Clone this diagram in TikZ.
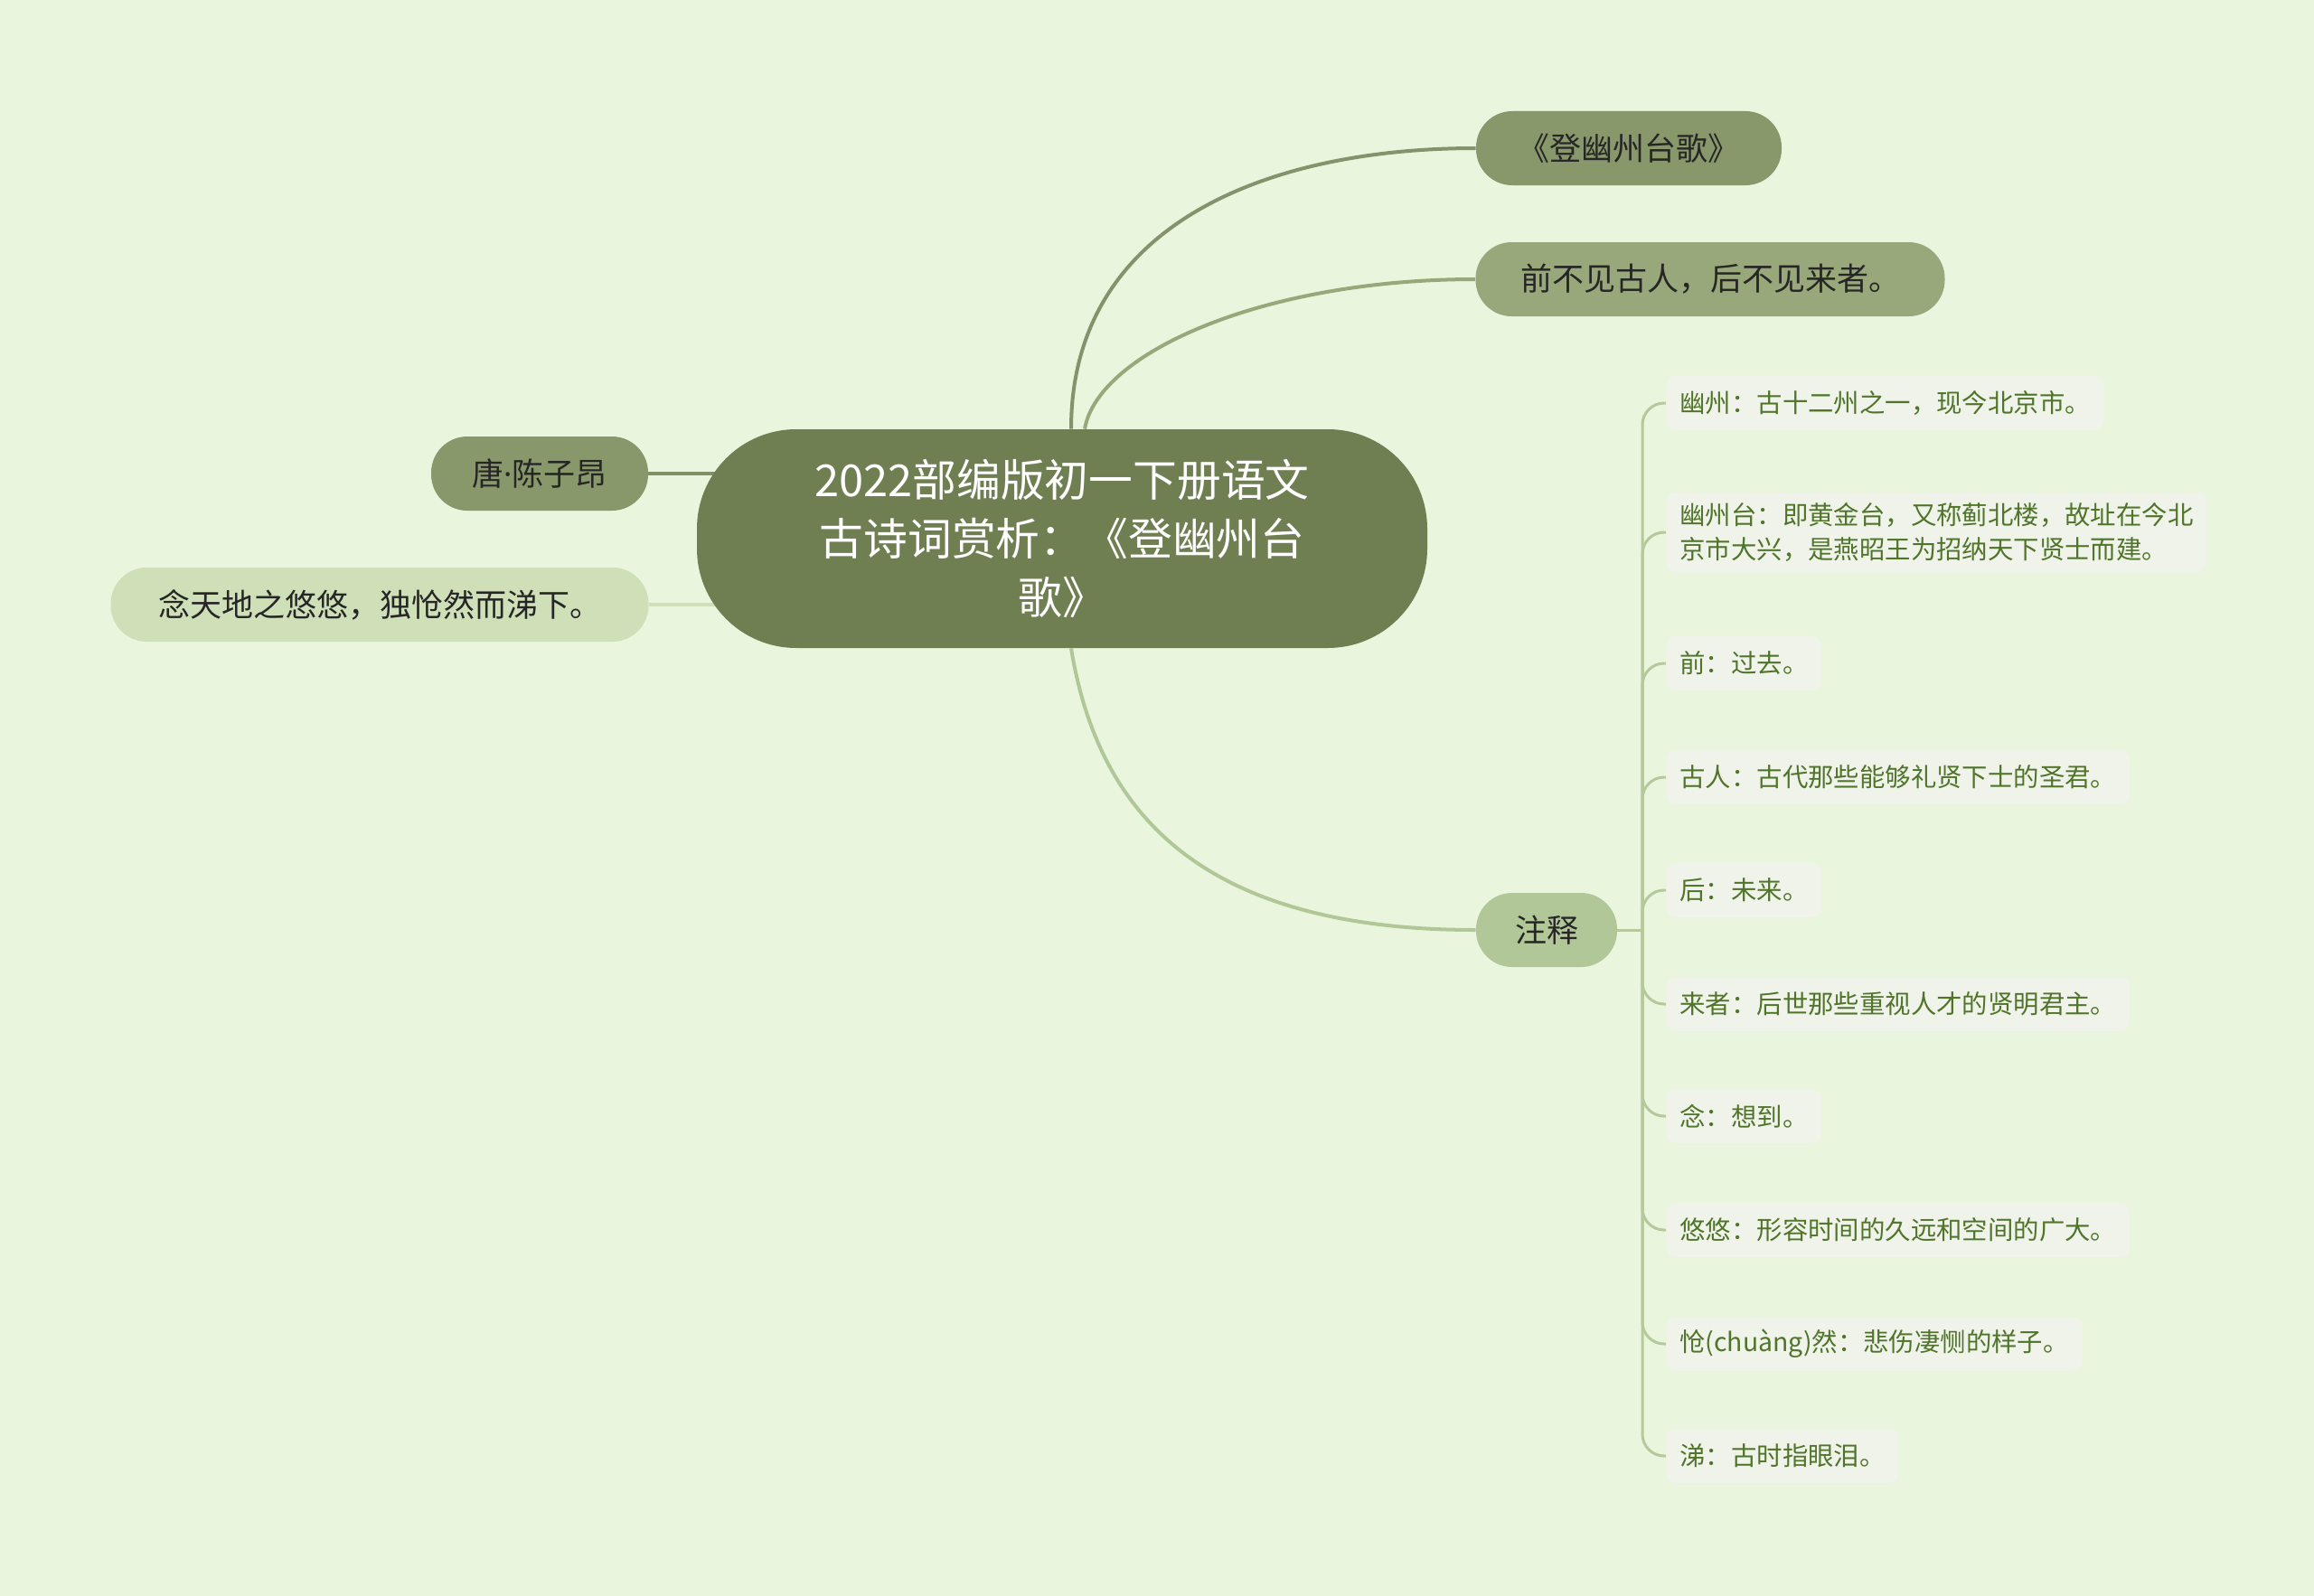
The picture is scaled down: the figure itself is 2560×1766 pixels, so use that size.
\documentclass[tikz,border=0pt]{standalone}
\usepackage{fontspec}
\setmainfont{Noto Sans CJK SC}
\newfontfamily\latinfont{Noto Sans}
\usepackage{tikz}
\usetikzlibrary{positioning,backgrounds}

\definecolor{bgcol}{HTML}{E9F5DC}
\definecolor{rootcol}{HTML}{6F7F52}
\definecolor{darkcol}{HTML}{88986A}
\definecolor{midcol}{HTML}{98A87A}
\definecolor{palecol}{HTML}{CFE0B9}
\definecolor{notecol}{HTML}{B2C798}
\definecolor{leafcol}{HTML}{F0F3EA}
\definecolor{leaftext}{HTML}{50752A}
\definecolor{twigcol}{HTML}{B5C99C}

\tikzset{
  rootnode/.style={fill=rootcol, text=white, rounded corners=55pt, align=center,
    minimum width=404pt, minimum height=121pt,
    font=\fontsize{24.4pt}{32.5pt}\selectfont},
  topic/.style={rounded corners=20pt, text=black!85, minimum height=41pt,
    inner sep=0pt, font=\fontsize{17.5pt}{21pt}\selectfont},
  leaf/.style={fill=leafcol, text=leaftext, rounded corners=5pt, anchor=west,
    align=left, minimum height=30pt, inner xsep=7.5pt, inner ysep=6pt,
    font=\fontsize{14.2pt}{18.75pt}\selectfont},
  branch/.style={line width=2pt},
  twig/.style={draw=twigcol, line width=1.5pt, rounded corners=12pt}
}

\begin{document}
\begin{tikzpicture}[x=0.5pt,y=-0.5pt]
  \useasboundingbox (0,0) rectangle (2560,1766);

  \node[rootnode] (R) at (1175,596) {2022部编版初一下册语文\\古诗词赏析：《登幽州台\\歌》};

  \begin{scope}[every node/.style={topic}]
    \node[fill=darkcol, minimum width=169pt] (T) at (1802,164) {《登幽州台歌》};
    \node[fill=midcol, minimum width=259.5pt] (P) at (1892,309) {前不见古人，后不见来者。};
    \node[fill=darkcol, minimum width=120pt] (A) at (597,524) {唐{\latinfont ·}陈子昂};
    \node[fill=palecol, minimum width=297.5pt] (S) at (420,669) {念天地之悠悠，独怆然而涕下。};
    \node[fill=notecol, minimum width=78pt] (N) at (1711,1029) {注释};
  \end{scope}

  \begin{scope}[every node/.style={leaf}]
    \node (L1) at (1843,446) {幽州：古十二州之一，现今北京市。};
    \node (L2) at (1843,589) {幽州台：即黄金台，又称蓟北楼，故址在今北\\京市大兴，是燕昭王为招纳天下贤士而建。};
    \node (L3) at (1843,734) {前：过去。};
    \node (L4) at (1843,860) {古人：古代那些能够礼贤下士的圣君。};
    \node (L5) at (1843,985) {后：未来。};
    \node (L6) at (1843,1111) {来者：后世那些重视人才的贤明君主。};
    \node (L7) at (1843,1235) {念：想到。};
    \node (L8) at (1843,1361) {悠悠：形容时间的久远和空间的广大。};
    \node (L9) at (1843,1487) {怆(chuàng)然：悲伤凄恻的样子。};
    \node (L10) at (1843,1611) {涕：古时指眼泪。};
  \end{scope}

  \coordinate (J) at (1817,1029);

  \begin{scope}[on background layer]
    \fill[bgcol] (0,0) rectangle (2560,1766);
    % main branches
    \draw[branch, draw=rootcol!85!white] ([xshift=5pt]R.north) .. controls +(0,-225) and +(-233,0) .. (T.west);
    \draw[branch, draw=midcol] ([xshift=12.5pt]R.north) .. controls +(15,-85) and +(-233,0) .. (P.west);
    \draw[branch, draw=notecol] ([xshift=5pt]R.south) .. controls +(30,183) and +(-303,0) .. (N.west);
    \draw[branch, draw=darkcol!95!black] (A.east) -- (A.east -| R.center);
    \draw[branch, draw=palecol] (S.east) -- (S.east -| R.center);
    % notes
    \draw[twig] (N.east) -- (J);
    \draw[twig] (J) |- (L1.west);
    \draw[twig] (J) |- (L2.west);
    \draw[twig] (J) |- (L3.west);
    \draw[twig] (J) |- (L4.west);
    \draw[twig] (J) |- (L5.west);
    \draw[twig] (J) |- (L6.west);
    \draw[twig] (J) |- (L7.west);
    \draw[twig] (J) |- (L8.west);
    \draw[twig] (J) |- (L9.west);
    \draw[twig] (J) |- (L10.west);
  \end{scope}
\end{tikzpicture}
\end{document}
